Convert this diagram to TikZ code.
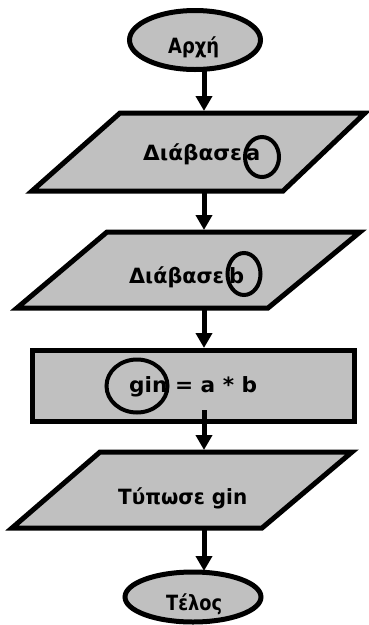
\documentclass[tikz,border=0pt]{standalone}
\usepackage{fontspec}
\usepackage{graphicx}
\setmainfont{DejaVu Sans}
\usetikzlibrary{arrows.meta,shapes.geometric}
\definecolor{boxgray}{RGB}{192,192,192}
\newcommand{\fitw}[2]{\resizebox{#1}{\height}{#2}}
\begin{document}
\begin{tikzpicture}[x=1pt,y=-1pt,
  shapeline/.style={draw=black,line width=5pt,fill=boxgray,line join=miter},
  ringline/.style={draw=black,line width=4pt,inner sep=0pt},
  flow/.style={line width=5pt,-{Triangle[length=15pt,width=16pt]}},
  lbl/.style={font=\fontsize{21}{24}\selectfont\bfseries,inner sep=0pt,anchor=base west},
  term/.style={ellipse,shapeline,inner sep=0pt}]
\useasboundingbox (0,0) rectangle (368,625);
% start
\node[term, minimum width=131pt, minimum height=59pt] (start) at (195,40) {};
\node[lbl] (startlbl) at (168,53) {\fitw{51pt}{Αρχή}};
% read a
\draw[shapeline] (120,113) -- (365,113) -- (283,191) -- (32,191) -- cycle;
\node[lbl] (reada) at (143,160) {\fitw{99pt}{Διάβασε}\kern4pt a};
\node[ringline, ellipse, minimum width=34pt, minimum height=40pt] (ringa) at (262,157) {};
% read b
\draw[shapeline] (107,232) -- (360,232) -- (268,308) -- (17,308) -- cycle;
\node[lbl] (readb) at (129,283) {\fitw{95pt}{Διάβασε}\kern5pt b};
\node[ringline, ellipse, minimum width=33pt, minimum height=42pt] (ringb) at (244,274) {};
% process
\draw[shapeline] (32,350) rectangle (354,421);
\node[lbl] (calc) at (129,392) {\fitw{128pt}{gin = a * b}};
\node[ringline, ellipse, minimum width=61pt, minimum height=53pt] (ringgin) at (137,386) {};
% print
\draw[shapeline] (100,452) -- (352,452) -- (262,528) -- (12,528) -- cycle;
\node[lbl] (print) at (118,504) {\fitw{129pt}{Τύπωσε gin}};
% end
\node[term, minimum width=136pt, minimum height=50pt] (stop) at (193,597) {};
\node[lbl] (stoplbl) at (166,610) {\fitw{56pt}{Τέλος}};
% connector coordinates
\coordinate (s0) at (204,70);
\coordinate (p1t) at (204,111);
\coordinate (p1b) at (204,191);
\coordinate (p2t) at (204,230);
\coordinate (p2b) at (204,308);
\coordinate (rt) at (204,348);
\coordinate (rb) at (204,410);
\coordinate (p3t) at (204,450);
\coordinate (p3b) at (204,528);
\coordinate (et) at (204,571);
\draw[flow] (s0) -- (p1t);
\draw[flow] (p1b) -- (p2t);
\draw[flow] (p2b) -- (rt);
\draw[flow] (rb) -- (p3t);
\draw[flow] (p3b) -- (et);
\end{tikzpicture}
\end{document}
